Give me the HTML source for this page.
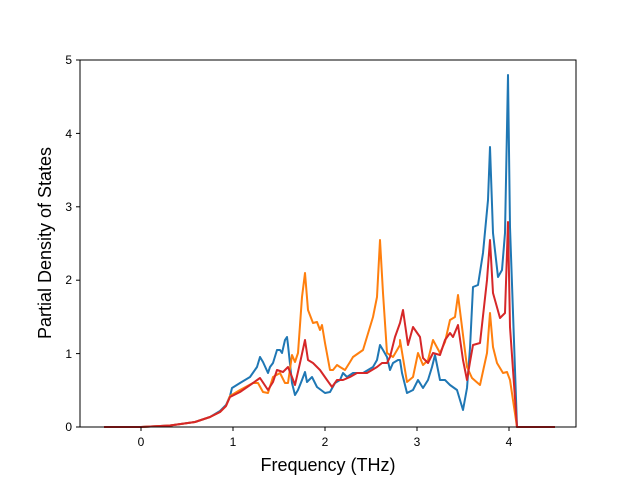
<!DOCTYPE html><html><head><style>body{margin:0;background:#fff}svg{font-family:"Liberation Sans","DejaVu Sans",sans-serif}</style></head><body>
<svg width="640" height="480" xmlns="http://www.w3.org/2000/svg">
<g fill="none" stroke-width="2" stroke-linejoin="round">
<polyline stroke="#1f77b4" points="104,427 141,427 170,425.5 195,422 210,417 220,411 226,405 230,396 232,388 240,383 250,377 257,367 260,357 263,362 268,373 270,367 273,363 277,350 280,350 282,353 285,340 287,337 288,345 292,383 295,395 298,390 302,380 305,372 307,382 312,377 317,387 325,393 330,392 335,383 340,380 343,373 347,377 353,373 363,373 373,367 377,360 380,345 383,350 387,357 390,370 393,363 398,360 400,360 402,373 407,393 413,390 418,380 423,388 428,380 432,367 435,355 440,380 445,380 450,385 457,390 463,410 467,388 470,348 473,287 478,285 483,253 488,200 490,147 493,233 498,277 502,270 505,233 508,75 510,227 517,427 555,427"/>
<polyline stroke="#ff7f0e" points="104,427 141,427 170,425.5 195,422 210,417 220,412 226,406 230,396 240,390 253,383 258,383 263,392 268,393 273,377 280,373 285,383 288,383 292,355 295,362 298,353 302,297 305,273 308,310 313,323 317,322 320,330 322,325 325,343 330,370 333,370 337,365 340,367 345,370 350,362 353,357 363,350 373,317 377,297 380,240 383,293 387,353 393,357 400,345 400,340 407,382 413,377 418,353 423,365 428,360 433,340 440,353 445,342 450,320 455,317 458,295 462,327 467,367 472,378 480,385 487,353 490,313 493,347 497,363 503,373 507,372 510,380 517,427 555,427"/>
<polyline stroke="#d62728" points="104,427 141,427 170,425.5 195,422 210,417 220,412 226,406 230,397 240,392 253,383 260,378 268,390 273,382 277,370 283,372 288,367 292,377 295,385 300,363 305,340 308,360 313,363 320,370 327,380 332,387 337,380 343,380 350,377 357,373 367,373 377,367 382,363 387,363 390,357 395,337 400,323 403,310 408,345 413,327 420,337 423,358 428,363 433,353 440,355 445,340 450,333 453,337 458,325 463,360 467,380 470,362 473,345 480,343 487,280 490,240 493,293 500,318 505,313 508,222 510,327 517,427 555,427"/>
</g>
<rect x="80" y="60" width="496" height="367" fill="none" stroke="#000" stroke-width="1"/>
<g stroke="#000" stroke-width="1">
<line x1="141" y1="427" x2="141" y2="431"/><line x1="233" y1="427" x2="233" y2="431"/><line x1="325" y1="427" x2="325" y2="431"/><line x1="417" y1="427" x2="417" y2="431"/><line x1="509" y1="427" x2="509" y2="431"/>
<line x1="76" y1="427" x2="80" y2="427"/><line x1="76" y1="353.6" x2="80" y2="353.6"/><line x1="76" y1="280.2" x2="80" y2="280.2"/><line x1="76" y1="206.8" x2="80" y2="206.8"/><line x1="76" y1="133.4" x2="80" y2="133.4"/><line x1="76" y1="60" x2="80" y2="60"/>
</g>
<g font-size="12" fill="#000" text-anchor="middle">
<text x="141" y="446">0</text><text x="233" y="446">1</text><text x="325" y="446">2</text><text x="417" y="446">3</text><text x="509" y="446">4</text>
</g>
<g font-size="12" fill="#000" text-anchor="end">
<text x="72" y="431">0</text><text x="72" y="358">1</text><text x="72" y="284">2</text><text x="72" y="211">3</text><text x="72" y="138">4</text><text x="72" y="64">5</text>
</g>
<text x="328" y="471" font-size="18" text-anchor="middle">Frequency (THz)</text>
<text x="51" y="243" font-size="18" text-anchor="middle" transform="rotate(-90 51 243)">Partial Density of States</text>
</svg></body></html>
